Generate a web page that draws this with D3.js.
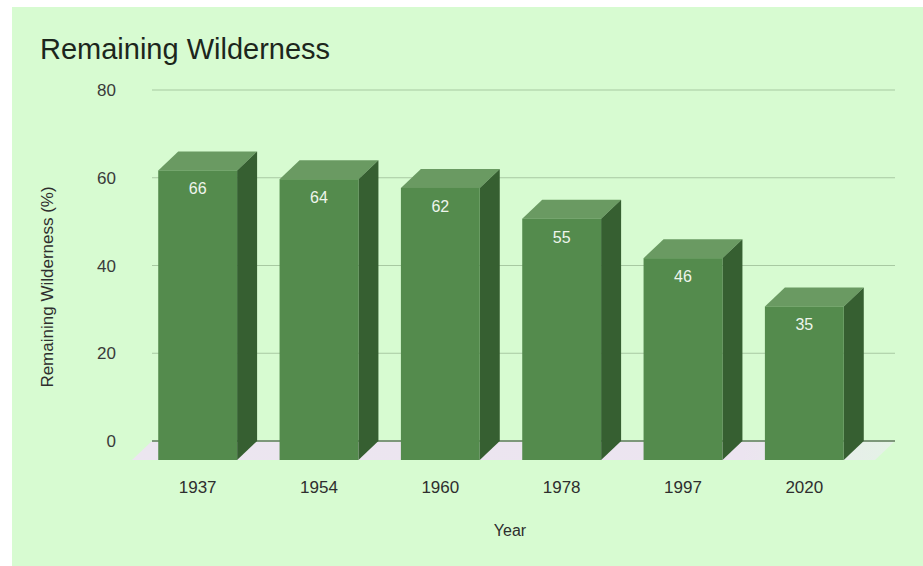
<!DOCTYPE html>
<html><head><meta charset="utf-8">
<script src="https://cdn.jsdelivr.net/npm/d3@7"></script>
<style>html,body{margin:0;padding:0;background:#fff;}svg{display:block;font-family:"Liberation Sans",Arial,sans-serif;}</style>
</head><body>
<svg id="chart" width="923" height="566"></svg>
<script>
const years = ["1937","1954","1960","1978","1997","2020"];
const values = [66, 64, 62, 55, 46, 35];
const yTicks = [0, 20, 40, 60, 80];
const title = "Remaining Wilderness";
const xTitle = "Year";
const yTitle = "Remaining Wilderness (%)";

const svg = d3.select("#chart");
svg.append("rect").attr("x",12).attr("y",7).attr("width",911).attr("height",559).attr("fill","#d7fbd1");

const dx = 20, dy = 19;
const y = d3.scaleLinear().domain([0,80]).range([441,90]);
const x = d3.scaleBand().domain(years).range([137,865]).paddingInner(0.35).paddingOuter(0.175);

// floor
const fl = 132, fr = 875;
const grad = svg.append("defs").append("linearGradient").attr("id","floorGrad");
grad.append("stop").attr("offset","0%").attr("stop-color","#ece6f0");
grad.append("stop").attr("offset","80%").attr("stop-color","#ece4f0");
grad.append("stop").attr("offset","100%").attr("stop-color","#e4f3e6");
svg.append("path")
  .attr("d", `M${fl+dx},${y(0)} L${fr+dx},${y(0)} L${fr},${y(0)+dy} L${fl},${y(0)+dy} Z`)
  .attr("fill","url(#floorGrad)");

// gridlines on back wall
svg.append("g").selectAll("line").data(yTicks).join("line")
  .attr("x1", fl+dx).attr("x2", fr+dx)
  .attr("y1", d=>y(d)).attr("y2", d=>y(d))
  .attr("stroke", d=> d===0 ? "#7d987a" : "#a8c9a2").attr("stroke-width", d=> d===0?2:1.2);

// y tick labels
svg.append("g").selectAll("text").data(yTicks).join("text")
  .attr("x",116).attr("y",d=>y(d)).attr("dy","0.36em")
  .attr("text-anchor","end").attr("font-size",17).attr("fill","#3a3a3a")
  .text(d=>d);

// bars
const bw = x.bandwidth();
const bars = svg.append("g").selectAll("g").data(years.map((k,i)=>({k,v:values[i]}))).join("g");
bars.append("path") // top
  .attr("d", d=>{const x0=x(d.k), yt=y(d.v)+dy; return `M${x0},${yt} L${x0+dx},${yt-dy} L${x0+bw+dx},${yt-dy} L${x0+bw},${yt} Z`;})
  .attr("fill","#6a9a62");
bars.append("path") // side
  .attr("d", d=>{const x1=x(d.k)+bw, yt=y(d.v)+dy, yb=y(0)+dy; return `M${x1},${yt} L${x1+dx},${yt-dy} L${x1+dx},${yb-dy} L${x1},${yb} Z`;})
  .attr("fill","#365f31");
bars.append("rect") // front
  .attr("x", d=>x(d.k)).attr("y", d=>y(d.v)+dy)
  .attr("width", bw).attr("height", d=>y(0)-y(d.v))
  .attr("fill","#548b4d");
bars.append("text")
  .attr("x", d=>x(d.k)+bw/2).attr("y", d=>y(d.v)+dy+24)
  .attr("text-anchor","middle").attr("font-size",16).attr("fill","#eef5ec")
  .text(d=>d.v);

// x labels
svg.append("g").selectAll("text").data(years).join("text")
  .attr("x", d=>x(d)+bw/2).attr("y", 493)
  .attr("text-anchor","middle").attr("font-size",17).attr("fill","#2e2e2e")
  .text(d=>d);

svg.append("text").attr("x",510).attr("y",536).attr("text-anchor","middle")
  .attr("font-size",16).attr("fill","#2e2e2e").text(xTitle);
svg.append("text").attr("transform","translate(53,287) rotate(-90)").attr("text-anchor","middle")
  .attr("font-size",17).attr("fill","#2e2e2e").text(yTitle);
svg.append("text").attr("x",40).attr("y",59).attr("font-size",29).attr("fill","#1c261c").text(title);
</script>
</body></html>
